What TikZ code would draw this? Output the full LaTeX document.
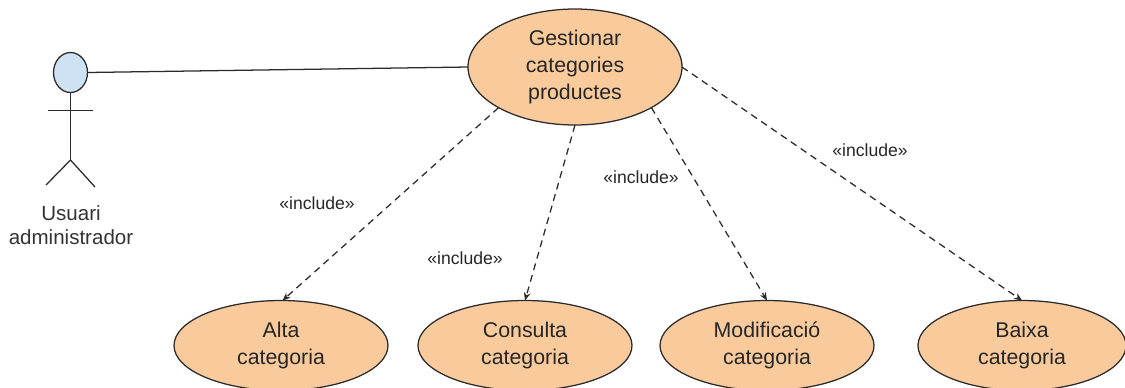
\documentclass[tikz,border=0pt]{standalone}
\usepackage{fontspec}
\setmainfont{Liberation Sans}
\usetikzlibrary{shapes.geometric,arrows.meta}
\definecolor{usecase}{HTML}{F9CB9C}
\definecolor{headblue}{HTML}{CFE2F3}
\definecolor{ink}{HTML}{2B2B2B}
\tikzset{
  usecasebox/.style={ellipse,draw=ink,fill=usecase,line width=0.95pt,inner sep=0pt,outer sep=0pt,
    minimum width=160.5pt,align=center,text=black!85,font=\fontsize{16}{20.25}\selectfont},
  bigcase/.style={usecasebox,minimum height=87pt},
  smallcase/.style={usecasebox,minimum height=67.5pt},
  includeline/.style={draw=ink,line width=0.95pt,dash pattern=on 5.2pt off 3.8pt,-{Stealth[length=6pt,width=5pt]}},
  includelabel/.style={text=black!85,font=\fontsize{13.2}{16}\selectfont,inner sep=0pt},
  actorline/.style={draw=ink,line width=0.95pt},
  actorlabel/.style={align=center,text=black!80,inner sep=0pt,font=\fontsize{15.4}{18}\selectfont}
}
\begin{document}
\begin{tikzpicture}[x=0.75pt,y=-0.75pt]
\clip (0,0) rectangle (1125,387);
\node[bigcase] (top) at (575,67) {Gestionar\\categories\\productes};
\node[smallcase] (alta) at (281,345.5) {Alta\\categoria};
\node[smallcase] (cons) at (525,345.5) {Consulta\\categoria};
\node[smallcase] (modi) at (767,345.5) {Modificació\\categoria};
\node[smallcase,minimum width=156pt] (baix) at (1022,345.5) {Baixa\\categoria};
% actor
\node[ellipse,draw=ink,fill=headblue,line width=0.95pt,inner sep=0pt,outer sep=0pt,minimum width=25.5pt,minimum height=30pt] (head) at (70.5,72.5) {};
\coordinate (hip) at (70.5,160);
\coordinate (armL) at (48,110.7);
\coordinate (armR) at (92.5,110.7);
\coordinate (legL) at (46,185);
\coordinate (legR) at (95,187);
\draw[actorline] (head.south) -- (hip);
\draw[actorline] (armL) -- (armR);
\draw[actorline] (legL) -- (hip) -- (legR);
\node[actorlabel] (actor) at (71,225) {Usuari\\administrador};
% connectors
\draw[actorline] (head.east) -- (top.west);
\draw[includeline] (top.208.7) -- (alta.88);
\draw[includeline] (top.south) -- (cons.north);
\draw[includeline] (top.-28) -- (modi.north);
\draw[includeline] (top.east) -- (baix.north);
% labels
\node[includelabel] (l1) at (317,203) {<<include>>};
\node[includelabel] (l2) at (465,258) {<<include>>};
\node[includelabel] (l3) at (641,177) {<<include>>};
\node[includelabel] (l4) at (870,150) {<<include>>};
\end{tikzpicture}
\end{document}
